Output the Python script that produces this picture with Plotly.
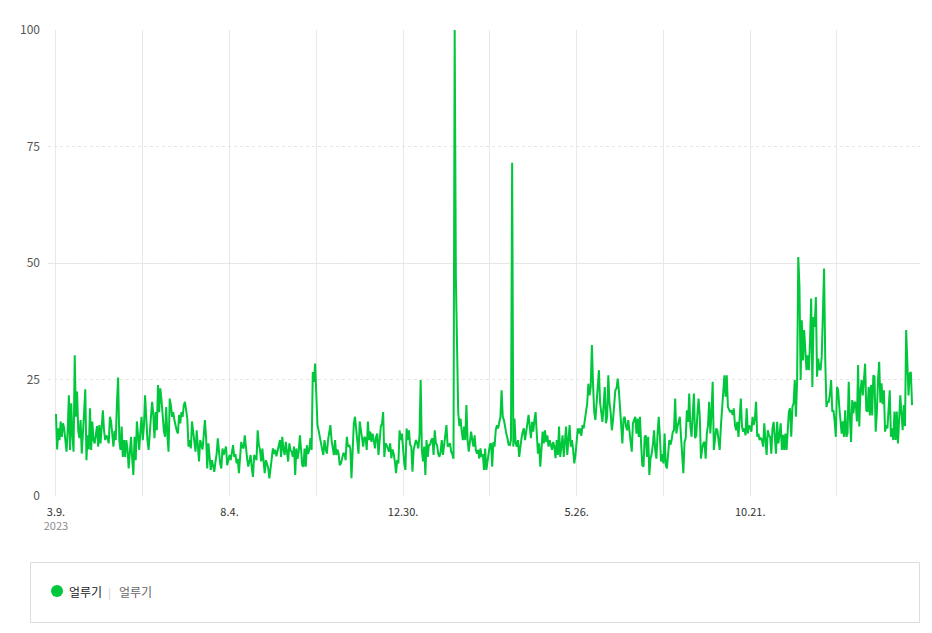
import pandas as pd
import plotly.graph_objects as go

# daily search ratio for "얼루기", starting 2023-03-09
start_date = "2023-03-09"

# 2023-03-09 .. 2023-07-09
ratio_a = [17.6, 10, 14.5, 12, 16, 12.7, 15.6, 14.5, 12, 9.5,
           14, 21.6, 9.9, 19.9, 13, 9.5, 30.2, 17, 22.4, 14,
           12.4, 16.3, 9.1, 15, 18, 22.9, 7.7, 13, 10, 18.8,
           9.9, 16, 12, 11.3, 13, 15, 10.6, 15.2, 11.3, 14,
           18.4, 14, 12, 13, 12.5, 11.3, 17, 16, 13, 10.6,
           14, 12, 20, 25.4, 12, 9.9, 14.9, 8.4, 12, 8.4,
           12, 10, 5.9, 9, 12.7, 8, 4.5, 12.7, 7.7, 16,
           12, 9.9, 14, 17, 12, 15, 21.6, 15.6, 12, 9.9,
           14.9, 17, 20.2, 17.4, 12.4, 18, 14.1, 23.8, 18, 23.1,
           20.6, 16.6, 14, 12.7, 19.1, 13, 9.5, 20.9, 19.5, 17,
           18, 16.3, 15, 14, 13.4, 17.4, 15.6, 18, 17, 19.5,
           20.2, 18.8, 16.6, 10.6, 12, 10.2, 16, 13.8, 11, 9.5,
           14.1, 10, 7.4]

# 2023-07-10 .. 2023-11-10
ratio_b = [12, 11, 10, 13, 16.3, 12.7, 5.9, 11.3, 8, 5.6,
           7.7, 6, 5.2, 7.3, 9, 12.4, 8.8, 7, 5.9, 10.2,
           8.8, 9.5, 10.6, 6.6, 8, 8.8, 7.7, 9, 10.9, 8.4,
           9, 7, 8, 4.9, 8, 11.6, 10.5, 10.2, 13, 9.9,
           8, 6.3, 7.7, 8.8, 6, 4.1, 8.8, 8, 7.7, 14.1,
           11, 9.9, 7.4, 10.2, 8, 4.9, 7.7, 6.5, 6, 3.8,
           6, 7.7, 10.2, 9, 9.9, 8.5, 9.6, 11, 12, 8.4,
           12.7, 10, 8.8, 11.6, 9, 7.4, 11.3, 9.8,
           9.5, 8.4, 10.6, 4.5, 10.2, 8, 9.5, 13, 10, 6.6,
           6.3, 10.2, 6.3, 10.9, 9, 9.9, 12.4, 9.9, 26.6, 24.5,
           28.4, 23.4, 15.2, 14, 12.4, 11.6, 10, 8.8, 12, 10,
           9.1, 12, 13.5, 15.2, 12, 10.6, 8.8, 12, 8.8, 10,
           9.1, 6.6, 7, 8, 9.1, 9.1]

# 2023-11-11 .. 2024-03-13
ratio_c = [7.7, 12.7, 10.6, 11, 10.2, 3.8, 11.3, 15.6, 17, 14.1,
           12, 9.1, 16, 13.8, 12, 10.6, 12.7, 12.4, 9.9, 16,
           12, 13.8, 11.6, 13.4, 12, 10.2, 12.7, 13.4, 8.8, 12.7,
           14.9, 15.5, 18, 8.4, 11.3, 10.9, 10, 9.5, 11.3, 8.1,
           10, 9.1, 7.4, 4.9, 7.7, 7, 14.1, 12, 13.4, 9.1,
           7, 5.6, 14.5, 12, 14.1, 11, 10.6, 5.2, 9.9, 11,
           12, 11.3, 10.2, 13, 24.9, 9.9, 7.4, 10.6, 4.5, 12,
           8.4, 10.9, 11, 12, 12.4, 8.8, 14.1, 11.3, 10.9, 9,
           8.4, 9.5, 12, 8.8, 10.9, 12, 15.2, 10.6, 11, 11.3,
           9.5, 9, 8, 100, 47, 30, 18, 15, 16.6, 13.8,
           12, 14.9, 12, 19.5, 12, 9.5, 12, 13.8, 12, 10.6,
           13, 9.9, 9.1, 9.9, 8, 10.2, 8.4, 9, 5.6, 10.2,
           5.6, 7.7, 9, 11]

# 2024-03-14 .. 2024-07-14
ratio_d = [11.3, 6.3, 11.6, 10.6, 14.1, 15.2, 14.5, 15.6, 17, 22.7,
           17, 16.3, 14.5, 13.4, 12.4, 11, 10.9, 12, 71.5, 10.6,
           16.6, 11.3, 10.6, 12, 8.4, 11.3, 12.4, 13.8, 14.5, 12,
           13.8, 15, 17.4, 14.9, 12.4, 15.9, 13.8, 16.3, 18, 13.4,
           9.1, 11.3, 6.3, 10, 13.8, 11.3, 14.1, 11.6, 13, 10.6,
           12, 11, 9.9, 11.6, 10.6, 8.1, 12, 8.8, 14.9, 8.4,
           11, 13, 8.4, 12, 14.9, 8.8, 12, 15.2, 10.6, 12,
           9.9, 7, 8.8, 12, 14.5, 13.4, 14.5, 12.9, 15.2, 14.5,
           16, 17.7, 19.9, 24.1, 21.6, 23.4,
           32.4, 23.8, 18, 16.3, 20, 23.1, 27, 20, 17, 15.9,
           19.5, 23.4, 15.6, 17, 25.9, 20, 18, 14.1, 16.3, 19.5,
           22.7, 23.1, 25.2, 22.7, 19.1, 15.2, 11.3, 16.6, 17, 15,
           14.1, 16.3, 14.1, 12.7, 9.5, 15.6, 16.6]

# 2024-07-15 .. 2024-11-11
ratio_e = [17, 13.4, 16.6, 12.7, 17, 11, 6.6, 6.3, 12.7, 13,
           8.4, 12.7, 4.5, 8,
           9.1, 11, 14.1, 9.9, 8, 13.4, 17, 12.7, 7.4, 9,
           7, 13.4, 6.6, 5.9, 9.9, 12, 11, 12, 13.8, 14.1,
           20.9, 13.4, 14.9, 16.3, 17, 12.7, 8, 4.9, 11.6, 12.4,
           18.4, 15.9, 22, 14.9, 12.7, 17, 22, 12.4, 13, 17.7,
           20.9, 17, 8, 10, 11.3, 11.6, 8, 13.4, 15.2, 20.2,
           13.4, 18, 24.5, 9.9, 12.7, 14.5, 14.1, 12, 9.9, 15,
           19.1, 22.4, 25.9, 21.3, 25.9, 19.1, 18.4, 18, 18.4, 17.4,
           18.8, 15.2, 14.1, 15.9, 12.7, 16, 20.9, 14.9, 13.8, 14.5,
           13, 18.8, 13.4, 15, 14.9, 13.8, 17, 15.2, 16.6, 20.2,
           12.7, 13.4, 12, 12.5, 12, 10.6, 15.6, 12, 8.8, 14.1,
           13, 12.7, 9.1, 14.5, 15.9, 12.7]

# 2024-11-12 .. 2025-03-08
ratio_f = [9.1, 15.9, 11.3, 13, 15.6, 9.9, 13.1, 9.9, 13.4, 9.9,
           14, 18.1, 18.8, 12.7, 19.1, 19.9, 24.9, 17, 24.9,
           51.3, 44.9, 24.9, 37.7, 29.1, 35.6, 31, 27, 30.2, 27,
           33, 42.4, 23.4, 38.4, 36.3, 42.7, 25.6, 29.5, 27.3, 27,
           30, 40.6, 48.8, 29.1, 19.1, 20.2, 20.2, 22, 24.9, 18.1,
           18.4, 16, 12.7, 23.4, 22.7, 19, 16, 13.4, 16, 12.7,
           18.4, 12.7, 13.4, 24.5, 17, 11.6, 20.6, 17.7, 20.2, 19.9,
           16, 28.1, 14.9, 22.4, 24.9, 21.6, 25, 28.4, 18.4, 18.1,
           23.4, 17.3, 23.8, 17.3, 25.9, 25.6, 13.8, 18, 25, 28.8,
           20, 24.2, 19.7, 22.7, 13.8, 15.2, 14.5, 18, 22.7, 12.7,
           14.5, 12, 18.1, 12, 18.1, 11.3, 16, 21.6, 17.7, 14.1,
           19.5, 15, 35.6, 26.3, 21.6, 26.3, 26.6, 19.5]

y_ticks = [0, 25, 50, 75, 100]
series_name = "얼루기"
keyword = "얼루기"

ratio = ratio_a + ratio_b + ratio_c + ratio_d + ratio_e + ratio_f
dates = pd.date_range(start_date, periods=len(ratio), freq="D")

grid_dates = pd.date_range(start_date, periods=10, freq="74D")
grid_text = []
for i, d in enumerate(grid_dates):
    if i % 2:
        grid_text.append("")
    elif i == 0:
        grid_text.append(f"{d.month}.{d.day}.<br><span style='color:#8c8c8c'>{d.year}</span>")
    else:
        grid_text.append(f"{d.month}.{d.day}.")

GREEN = "#00c73c"
FONT = "Noto Sans CJK KR"

fig = go.Figure()
fig.add_trace(go.Scatter(x=dates, y=ratio, mode="lines", name=series_name,
                         line=dict(color=GREEN, width=2), hoverinfo="skip"))

pad = pd.Timedelta(hours=163)
fig.update_xaxes(range=[dates[0] - pad, dates[-1] + pad],
                 tickvals=grid_dates, ticktext=grid_text,
                 showgrid=True, gridcolor="#e8e8e8", gridwidth=1,
                 zeroline=False, showline=False, ticks="",
                 ticklabelstandoff=8,
                 tickfont=dict(family=FONT, size=11, color="#333333"))
fig.update_yaxes(range=[0, 100], tickvals=y_ticks,
                 showgrid=True, gridcolor="#e6e6e6", griddash="dot", gridwidth=1,
                 minor=dict(tickvals=[0, 50, 100], showgrid=True,
                            gridcolor="#e8e8e8", griddash="solid", gridwidth=1),
                 zeroline=False, showline=False, ticks="",
                 ticklabelstandoff=7,
                 tickfont=dict(family=FONT, size=12, color="#555555"))

# the page body adds an 8px margin, so figure coords are page coords minus 8
OFF = 8
W, H = 932 - 2 * OFF, 633 - 2 * OFF
L, R, T, B = 48 - OFF, 920 - OFF, 30 - OFF, 496 - OFF


def px(x):
    return (x - OFF - L) / (R - L)


def py(y):
    return (B - (y - OFF)) / (B - T)


fig.add_shape(type="rect", xref="paper", yref="paper",
              x0=px(30.5), x1=px(919.5), y0=py(622.5), y1=py(562.5),
              line=dict(color="#dddddd", width=1), fillcolor="white")
fig.add_shape(type="circle", xref="paper", yref="paper",
              x0=px(51), x1=px(63), y0=py(597), y1=py(585),
              line=dict(width=0), fillcolor=GREEN)
fig.add_annotation(xref="paper", yref="paper", x=px(67), y=py(591),
                   text=series_name, showarrow=False, xanchor="left", yanchor="middle",
                   font=dict(family=FONT, size=12, color="#222222"))
fig.add_annotation(xref="paper", yref="paper", x=px(106), y=py(592),
                   text="|", showarrow=False, xanchor="left", yanchor="middle",
                   font=dict(family=FONT, size=11, color="#cccccc"))
fig.add_annotation(xref="paper", yref="paper", x=px(117), y=py(591),
                   text=keyword, showarrow=False, xanchor="left", yanchor="middle",
                   font=dict(family=FONT, size=12, color="#666666"))

fig.update_layout(width=W, height=H,
                  margin=dict(l=L, r=W - R, t=T, b=H - B),
                  plot_bgcolor="white", paper_bgcolor="white",
                  showlegend=False,
                  font=dict(family=FONT))

fig.write_html("out.html")
